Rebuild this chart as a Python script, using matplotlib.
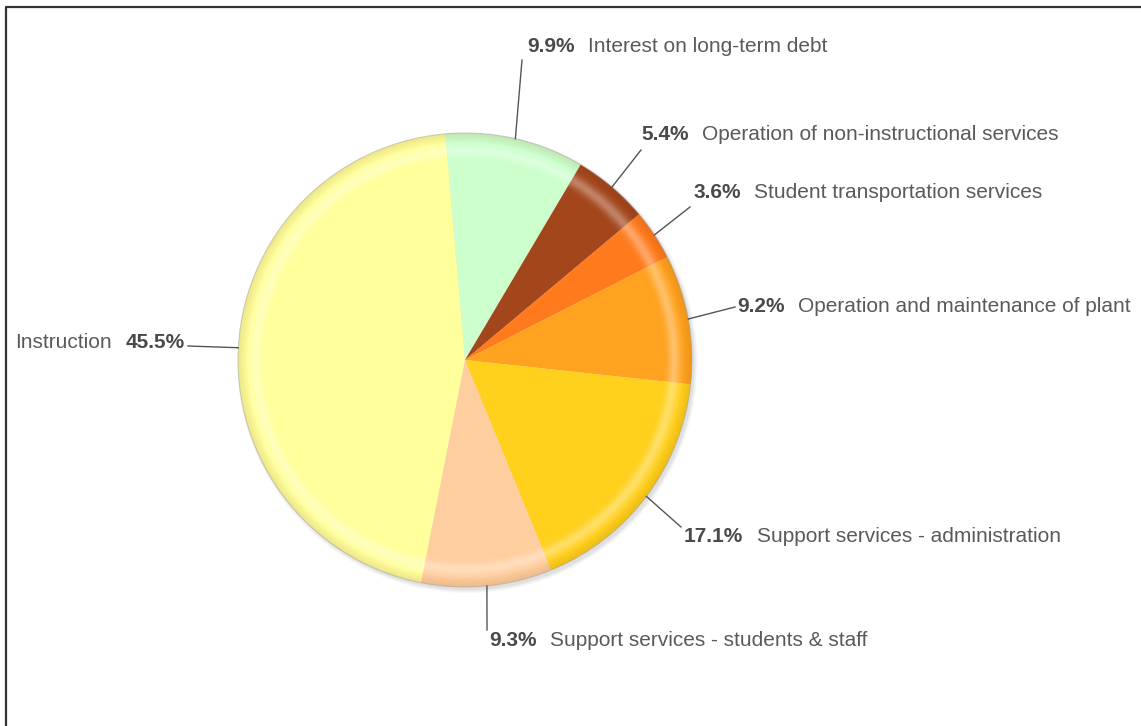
import numpy as np
import matplotlib
matplotlib.use("Agg")
import matplotlib.pyplot as plt
from matplotlib.patches import Circle

# Expenditure shares (percent), clockwise from the top
categories = [
    "Interest on long-term debt",
    "Operation of non-instructional services",
    "Student transportation services",
    "Operation and maintenance of plant",
    "Support services - administration",
    "Support services - students & staff",
    "Instruction",
]
shares = [9.9, 5.4, 3.6, 9.2, 17.1, 9.3, 45.5]
colors = ["#CCFFCC", "#A3461C", "#FF7A1C", "#FFA21F", "#FFD01C", "#FFCE9E", "#FFFF9C"]

W, H = 1141, 726
fig = plt.figure(figsize=(W / 100, H / 100), dpi=100)
ax = fig.add_axes([0, 0, 1, 1])

cx, cy, R = 465, H - 360, 227
start = 95

# soft drop shadow behind the pie
for k, a in enumerate([0.05, 0.05, 0.06, 0.08]):
    ax.add_patch(Circle((cx + 2.5, cy - 3), R + 3 - k, color="#777777", alpha=a,
                        lw=0, zorder=1))

wedges, _ = ax.pie(shares, colors=colors, startangle=start, counterclock=False,
                   center=(cx, cy), radius=R, frame=True,
                   wedgeprops=dict(linewidth=0))
for w in wedges:
    w.set_zorder(2)

# rim shading: light band just inside the edge, slightly darker at the very edge
nb = 24
edges = np.linspace(0.84, 1.0, nb + 1)
for i in range(nb):
    r0, r1 = edges[i], edges[i + 1]
    t = 0.5 * (r0 + r1)
    light = 0.34 * np.exp(-((t - 0.922) / 0.026) ** 2)
    dark = 0.12 * np.clip((t - 0.955) / 0.045, 0, 1)
    for col, a in (("white", light), ("#703000", dark)):
        if a > 0.01:
            ring, _ = ax.pie(shares, colors=[col] * len(shares), startangle=start,
                             counterclock=False, center=(cx, cy), radius=R * r1,
                             frame=True,
                             wedgeprops=dict(width=R * (r1 - r0), linewidth=0,
                                             alpha=a))
            for w in ring:
                w.set_zorder(3)

# thin grey outline round the rim
ax.add_patch(Circle((cx, cy), R, fill=False, ec="#9a9a9a", lw=0.8, alpha=0.45,
                    zorder=4))

# label anchors (pixel coordinates, y measured from the top):
# (end of leader line), (position of the percentage text)
anchors = [
    ((522, 60), (527, 47)),
    ((641, 150), (641, 134)),
    ((690, 207), (693, 192)),
    ((735, 307), (737, 307)),
    ((681, 527), (684, 537)),
    ((487, 630), (489, 641)),
    ((188, 346), (185, 342)),
]

txt_col = "#5a5a5a"
pct_col = "#4a4a4a"
fs = 15
gap = 10  # points between the percentage and the category name
for w, name, val, (lend, tpos) in zip(wedges, categories, shares, anchors):
    mid = np.deg2rad(0.5 * (w.theta1 + w.theta2))
    x0, y0 = cx + R * np.cos(mid), cy + R * np.sin(mid)
    x1, y1 = lend[0], H - lend[1]
    ax.plot([x0, x1], [y0, y1], color="#555555", lw=1.0, zorder=5)
    tx, ty = tpos[0], H - tpos[1]
    pct = f"{val:.1f}%"
    if name == "Instruction":
        t1 = ax.text(tx, ty, pct, ha="right", va="center", fontsize=fs,
                     fontweight="bold", color=pct_col, family="Liberation Sans")
        ax.annotate(name, xy=(0, 0.5), xycoords=t1, xytext=(-gap, 0),
                    textcoords="offset points", ha="right", va="center",
                    fontsize=fs, color=txt_col, family="Liberation Sans")
    else:
        t1 = ax.text(tx, ty, pct, ha="left", va="center", fontsize=fs,
                     fontweight="bold", color=pct_col, family="Liberation Sans")
        ax.annotate(name, xy=(1, 0.5), xycoords=t1, xytext=(gap, 0),
                    textcoords="offset points", ha="left", va="center",
                    fontsize=fs, color=txt_col, family="Liberation Sans")

# frame lines along the top and left edges
ax.plot([5.5, 5.5, W + 5], [-5, H - 6.5, H - 6.5], color="#333333", lw=1.6,
        zorder=6, clip_on=False)

ax.set_xlim(0, W)
ax.set_ylim(0, H)
ax.set_aspect("equal")
ax.axis("off")
fig.savefig("out.png", dpi=100)
